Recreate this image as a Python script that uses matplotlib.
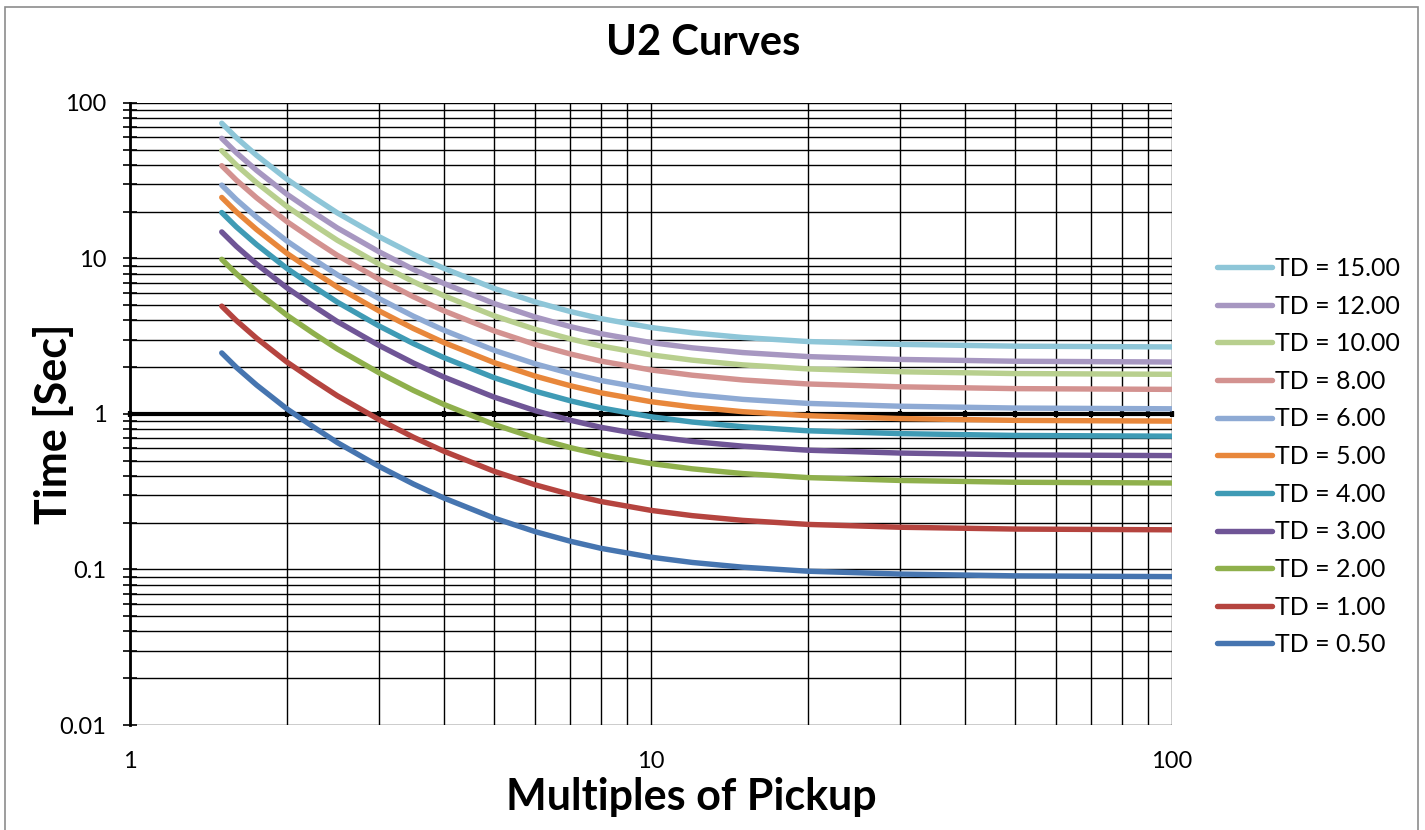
import numpy as np
import matplotlib.pyplot as plt
from matplotlib.ticker import FuncFormatter, NullFormatter, NullLocator, LogLocator
from matplotlib.patches import Rectangle

plt.rcParams['font.family'] = ['Lato', 'DejaVu Sans']

# multiples of pickup where the curves are drawn
multiples = [1.5, 1.6, 1.75, 2, 2.25, 2.5, 3, 3.5, 4, 5, 6, 7, 8, 10, 12, 15, 20, 30, 50, 70, 100]
# trip time in seconds for TD = 1.00
base_time = [4.94, 3.99, 3.07, 2.16, 1.65, 1.31, 0.924, 0.709, 0.577, 0.428, 0.350, 0.304,
             0.274, 0.240, 0.222, 0.207, 0.195, 0.187, 0.182, 0.181, 0.180]
td_values = [0.5, 1, 2, 3, 4, 5, 6, 8, 10, 12, 15]
colors = ['#4675b0', '#b5443f', '#8fb04c', '#6f5596', '#3f9bb5', '#e8873b',
          '#8eaad4', '#d39290', '#b8cf8e', '#a797c1', '#8ec6d8']

W, H = 1425, 830
fig = plt.figure(figsize=(W / 100, H / 100), dpi=100)
ax = fig.add_axes([130 / W, 1 - 725 / H, 1042 / W, 622 / H])

for td, c in zip(td_values, colors):
    ax.plot(multiples, np.array(base_time) * td, color=c, lw=3.9,
            solid_capstyle='round', label=f'TD = {td:.2f}', zorder=3)

ax.set_xscale('log')
ax.set_yscale('log')
ax.set_xlim(1, 100)
ax.set_ylim(0.01, 100)
ax.xaxis.set_minor_locator(LogLocator(base=10, subs=np.arange(2, 10)))
ax.yaxis.set_minor_locator(LogLocator(base=10, subs=np.arange(2, 10)))
ax.grid(True, which='both', color='black', lw=1.0)

# horizontal axis crosses at 1 sec
ax.spines['bottom'].set_position(('data', 1))
ax.spines['bottom'].set_linewidth(3)
ax.spines['bottom'].set_zorder(2.5)
ax.spines['top'].set_visible(False)
ax.spines['right'].set_visible(False)
ax.spines['left'].set_linewidth(2)

ax.tick_params(axis='x', which='both', direction='inout', length=5, width=3,
               labelbottom=False)
ax.tick_params(axis='y', which='both', direction='inout', length=10, width=1.2,
               labelsize=17, pad=12)
ax.yaxis.set_major_formatter(FuncFormatter(lambda v, p: f'{v:g}'))
ax.yaxis.set_minor_formatter(NullFormatter())

# tick labels for the x axis sit under the plot area
sec = ax.secondary_xaxis(0)
sec.set_xticks([1, 10, 100])
sec.xaxis.set_major_formatter(FuncFormatter(lambda v, p: f'{v:g}'))
sec.xaxis.set_minor_locator(NullLocator())
sec.tick_params(length=0, labelsize=17, pad=19)
sec.spines['bottom'].set_visible(False)

handles, labels = ax.get_legend_handles_labels()
fig.legend(handles[::-1], labels[::-1], loc='upper left',
           bbox_to_anchor=(1217 / W, 1 - 257 / H), frameon=False, fontsize=18,
           handlelength=2.2, handletextpad=0.12, labelspacing=0.585,
           borderpad=0, borderaxespad=0)

fig.text(703 / W, 1 - 55 / H, 'U2 Curves', ha='center', va='baseline',
         fontsize=30, fontweight='bold')
fig.text(691 / W, 1 - 810 / H, 'Multiples of Pickup', ha='center', va='baseline',
         fontsize=31, fontweight='bold')
fig.text(54 / W, 1 - 424 / H, 'Time [Sec]', ha='center', va='center',
         rotation=90, fontsize=31, fontweight='bold')

fig.patches.append(Rectangle((5 / W, -0.05), (1418 - 5) / W, 1.05 - 7 / H,
                             transform=fig.transFigure, fill=False,
                             ec='#8c8c8c', lw=1.2))

fig.savefig('out.png', dpi=100, facecolor='white')
